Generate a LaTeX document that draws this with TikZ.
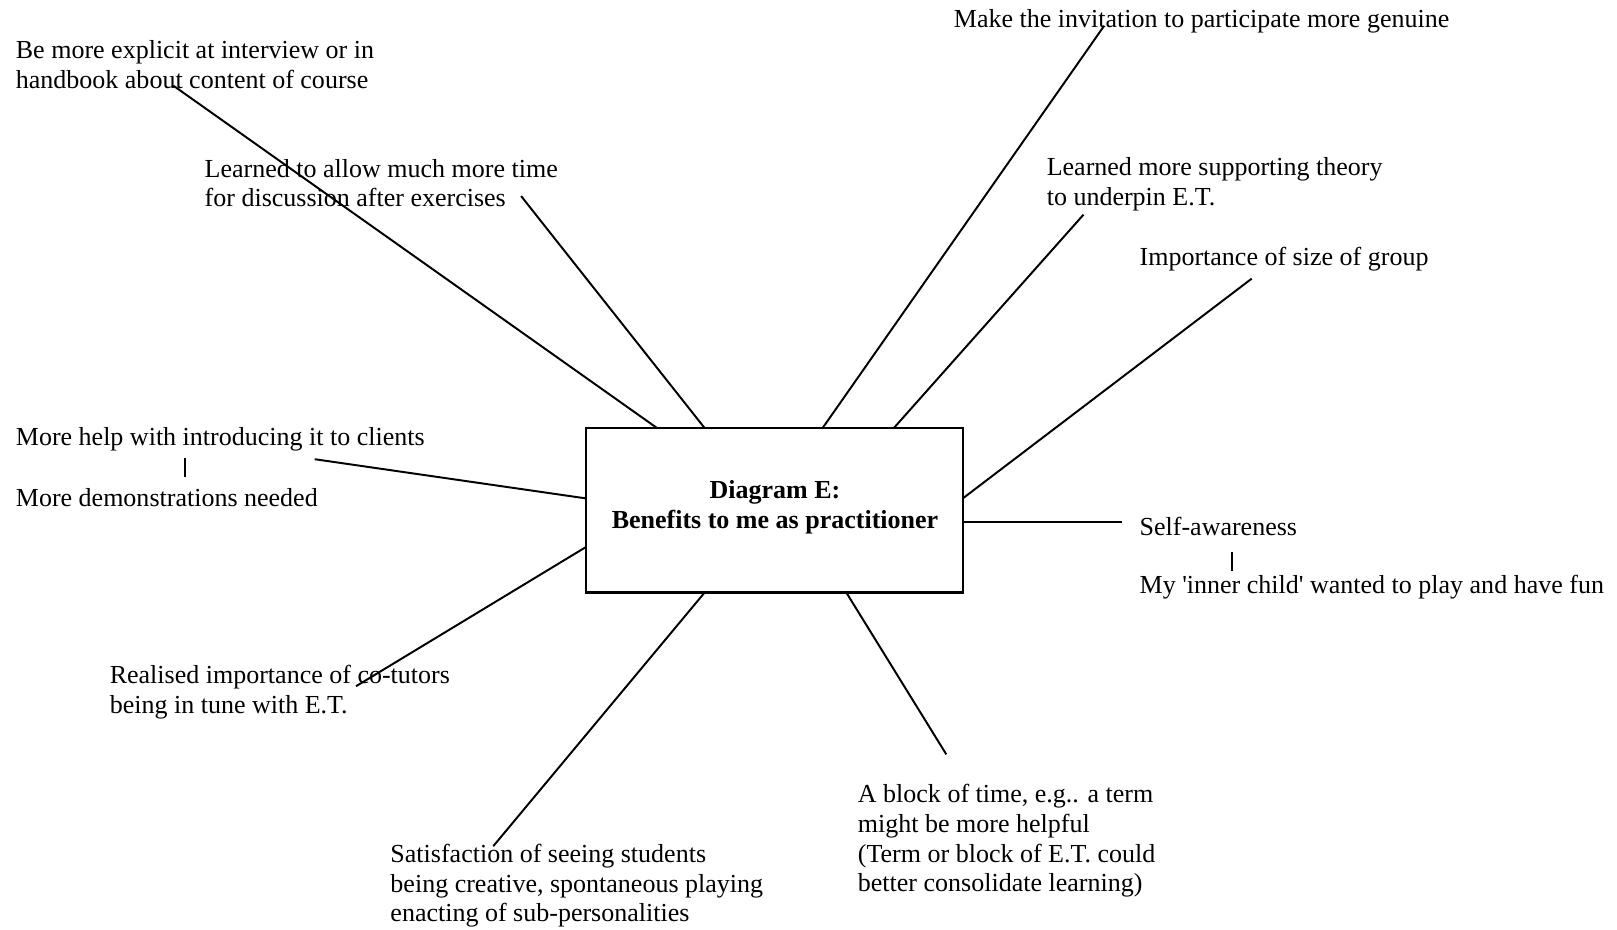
\documentclass[tikz,border=0pt]{standalone}
\usepackage{fontspec}
\setmainfont{Liberation Serif}
\begin{document}
\begin{tikzpicture}[x=0.5pt,y=-0.5pt,
  lbl/.style={anchor=west,align=left,inner sep=0pt,font=\fontsize{12.6pt}{14.4pt}\selectfont},
  conn/.style={line width=0.95pt},
  bar/.style={line width=1pt}]
\useasboundingbox (0,0) rectangle (1567,901);
% central box
\node[draw,line width=1.15pt,minimum width=182.5pt,minimum height=79.5pt,inner sep=0pt] (box) at (750.5,494.5) {};
\node[align=center,inner sep=0pt,font=\fontsize{12.6pt}{14.4pt}\selectfont\bfseries] (title) at (751,491.5) {Diagram E:\\Benefits to me as practitioner};
% labels
\node[lbl] (t1) at (15,62.5) {Be more explicit at interview or in\\handbook about content of course};
\node[lbl] (t2) at (198,177.5) {Learned to allow much more time\\for discussion after exercises};
\node[lbl] (t3) at (924,20.5) {Make the invitation to participate more genuine};
\node[lbl] (t4) at (1014,178.5) {Learned more supporting theory\\to underpin E.T.};
\node[lbl] (t5) at (1104,251) {Importance of size of group};
\node[lbl] (t6) at (15,425.5) {More help with introducing it to clients};
\node[lbl] (t6b) at (15,482) {More demonstrations needed};
\node[lbl] (t7) at (1104,510.5) {Self-awareness};
\node[lbl] (t7b) at (1104,569) {My \textquotesingle inner child\textquotesingle\ wanted to play and have fun};
\node[lbl] (t8) at (106,670.5) {Realised importance of co-tutors\\being in tune with E.T.};
\node[lbl] (t9) at (378,858.5) {Satisfaction of seeing students\\being creative, spontaneous playing\\enacting of sub-personalities};
\node[lbl] (t10) at (831,815) {A block of time, e.g.. a term\\might be more helpful\\(Term or block of E.T. could\\better consolidate learning)};
% connector end points
\coordinate (e1) at (168,83);   \coordinate (b1) at (637,415);
\coordinate (e2) at (505,190);  \coordinate (b2) at (683,415);
\coordinate (e3) at (1070,25);  \coordinate (b3) at (797,415);
\coordinate (e4) at (1050,208); \coordinate (b4) at (866,415);
\coordinate (e5) at (1213,270); \coordinate (b5) at (933,483);
\coordinate (e6) at (1087,506); \coordinate (b6) at (933,506);
\coordinate (e7) at (917,731);  \coordinate (b7) at (820,574);
\coordinate (e8) at (478,820);  \coordinate (b8) at (683,574);
\coordinate (e9) at (345,665);  \coordinate (b9) at (568,530);
\coordinate (e10) at (305,445); \coordinate (b10) at (568,483);
\foreach \i in {1,...,10} {\draw[conn] (e\i) -- (b\i);}
% small bars
\coordinate (v1a) at (179,444); \coordinate (v1b) at (179,462);
\coordinate (v2a) at (1194,535); \coordinate (v2b) at (1194,553);
\draw[bar] (v1a) -- (v1b);
\draw[bar] (v2a) -- (v2b);
\end{tikzpicture}
\end{document}
